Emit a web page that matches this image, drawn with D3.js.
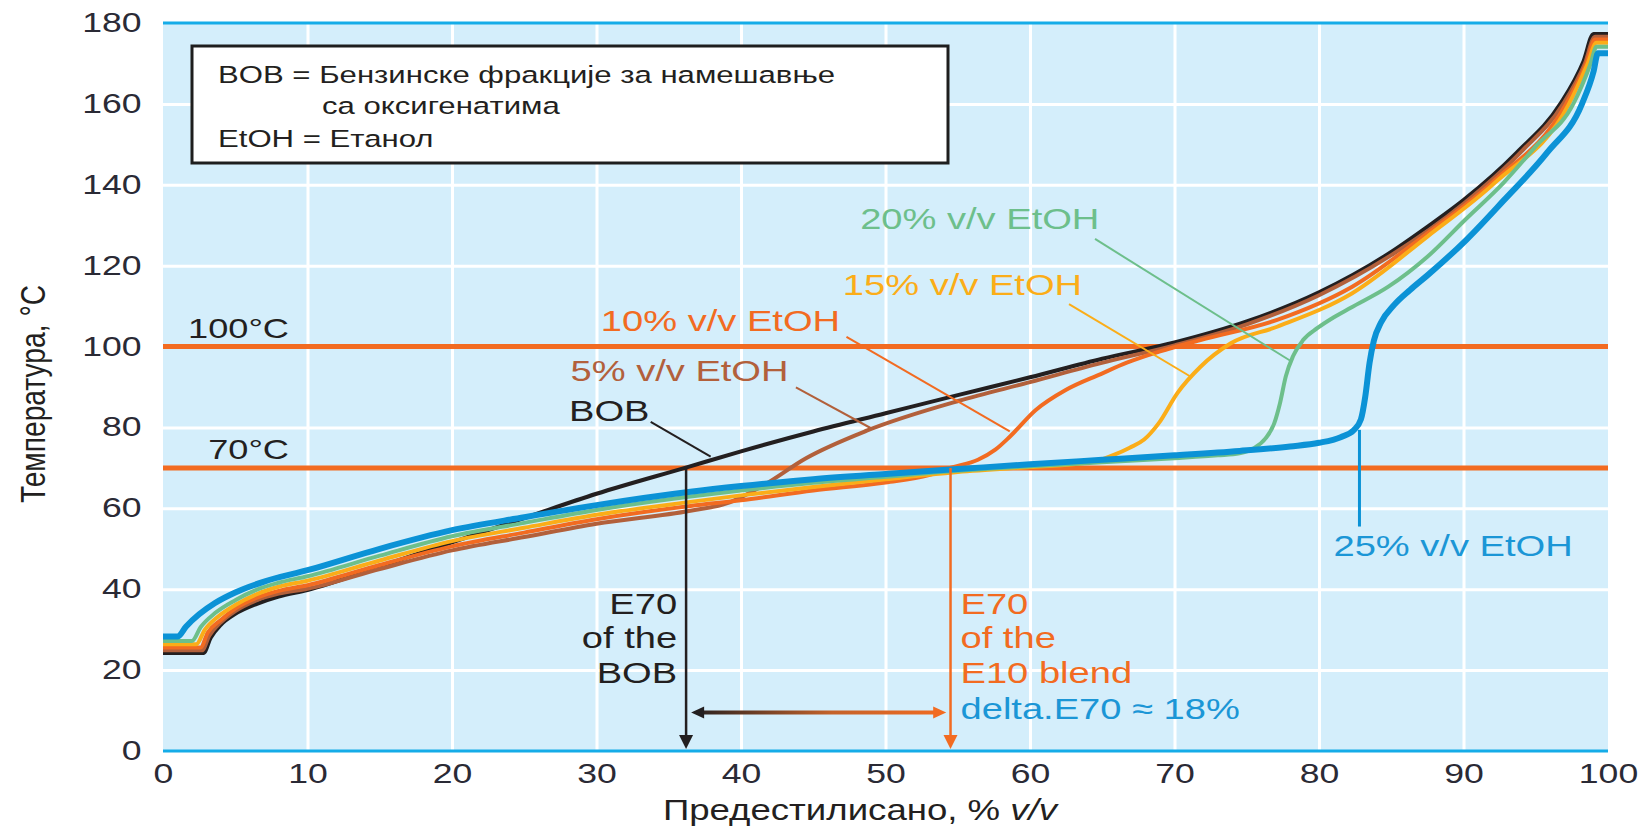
<!DOCTYPE html>
<html>
<head>
<meta charset="utf-8">
<script src="https://cdn.jsdelivr.net/npm/d3@7"></script>
<style>
  body { margin: 0; background: #fff; }
  svg { display: block; font-family: "Liberation Sans", Arial, Helvetica, sans-serif; }
</style>
</head>
<body>
<div id="chart"></div>
<script>
// ---- data ----
var xTicks = [0, 10, 20, 30, 40, 50, 60, 70, 80, 90, 100];
var yTicks = [0, 20, 40, 60, 80, 100, 120, 140, 160, 180];
var refTemps = [70, 100];
var refLabels = ["70°C", "100°C"];

// distillation curves [% evaporated, temperature]
var bobCurve = [[0,24.2],[2.8,24.2],[3.3,28],[4,31.2],[5,33.9],[6.5,36.4],[8,38.2],[10,39.8],[15,45.6],[20,51.6],[25,57.6],[30,63.6],[36.3,70.2],[40,74.1],[45,79],[50,83.5],[55,88],[60,92.4],[65,97],[70,101],[75,106.2],[80,113.4],[85,123.4],[87.5,129.6],[90,136.2],[93.7,148],[96.7,160],[98.3,170.5],[99,177.3],[100,177.3]];
var e5Curve = [[0,24.9],[2.7,24.9],[3.2,28.5],[4,31.8],[5,34.6],[6.5,37.3],[8,38.9],[10,40.1],[15,45],[20,49.6],[25,52.9],[30,56.2],[36.5,59.4],[39,61.2],[41.6,65.8],[44.5,72.4],[48.7,79.2],[55.1,86.6],[60,91.2],[64.9,95.9],[70,100.3],[75,105.5],[80,112.7],[85,122.6],[90,135.3],[94,148.2],[96.9,160],[98.4,170],[99.1,176.6],[100,176.6]];
var e10Curve = [[0,25.6],[2.6,25.6],[3.1,29.3],[4,32.4],[5,35.2],[6.5,37.9],[8,39.6],[10,41],[15,46],[20,50.6],[25,54],[30,57.3],[36.5,60.6],[40,62],[45,64.4],[50,66.4],[53,68.2],[54.6,70.1],[56.4,72],[57.6,74.5],[58.6,77.7],[60.4,84.3],[62.5,89.3],[64.9,93.2],[66.7,96],[69,98.8],[71.8,101.6],[77.1,106.6],[82.3,114.8],[87.5,128],[92,140.6],[97.1,160],[98.5,170],[99.1,175.9],[100,175.9]];
var e15Curve = [[0,26.4],[2.3,26.4],[2.9,30],[3.8,33.2],[5,36.1],[6.5,38.8],[8,40.6],[10,42.1],[15,47.1],[20,51.9],[25,55.2],[30,58.4],[36.5,61.6],[40,63.2],[45,65.3],[50,67.2],[55,69],[60,70.2],[63,70.9],[64.6,71.7],[65.8,73.2],[66.9,75],[67.9,77],[68.9,81],[70.2,88.5],[71.8,95],[73.9,100.8],[77.1,104.9],[82.3,113.2],[87.5,127.2],[92.2,140.6],[97.3,160],[98.6,170],[99.2,175.1],[100,175.1]];
var e20Curve = [[0,27.2],[2,27.2],[2.6,30.6],[3.6,34.1],[5,37.3],[6.5,39.9],[8,41.6],[10,43.2],[15,48.3],[20,53.1],[25,56.4],[30,59.6],[36.5,62.9],[40,64.4],[45,66.3],[50,67.8],[55,69.3],[60,70.4],[65,71.4],[70,72.4],[73,73.1],[74.5,73.6],[75.5,74.9],[76.3,77.3],[76.9,81],[77.3,86],[77.7,92.6],[78.2,97.6],[78.9,101.6],[79.9,104.6],[81,107.2],[82.2,109.6],[84.8,114.8],[87.5,122.2],[90.1,131.3],[92.8,140.6],[95,149.5],[97.6,160],[98.8,170],[99.2,174.1],[100,174.1]];
var e25Curve = [[0,28.3],[1,28.3],[1.6,30.8],[2.5,33.8],[3.6,36.6],[5,39.2],[7,41.9],[10,44.7],[15,50],[20,54.6],[25,57.8],[30,60.8],[36.5,64.1],[40,65.5],[45,67.2],[50,68.5],[55,69.7],[60,70.9],[65,72],[70,73.1],[74.5,74.2],[78,75.3],[80,76.2],[81.5,77.6],[82.4,79.3],[82.9,82],[83.2,87.6],[83.5,96],[83.8,101.5],[84.3,106],[85.2,110.3],[86.3,114],[87.5,117.6],[90.2,126.4],[92.8,136.2],[95.8,148],[98.2,160],[99,168],[99.3,172.5],[100,172.5]];

var curveNames = ["BOB", "5% v/v EtOH", "10% v/v EtOH", "15% v/v EtOH", "20% v/v EtOH", "25% v/v EtOH"];
var curves = [bobCurve, e5Curve, e10Curve, e15Curve, e20Curve, e25Curve];
// label anchor [x, y] (data units), text-anchor, leader start / end
var labelPos = [[28.1, 81.7], [28.2, 91.6], [30.3, 103.9], [63.6, 112.8], [64.8, 129.0], [81.0, 48.2]];
var labelAnchor = ["start", "start", "start", "end", "end", "start"];
var leaderFrom = [[33.75, 81.4], [43.8, 89.9], [47.3, 102.4], [62.7, 110.5], [64.5, 126.6], [82.8, 79.4]];
var leaderTo = [[37.9, 72.8], [49.0, 79.8], [58.6, 79.0], [71.1, 92.6], [78.1, 96.3], [82.8, 55.5]];

var e70Values = [36.2, 54.5];          // E70 of BOB, E70 of E10 blend
var deltaArrow = [36.55, 54.2, 9.5];   // from, to, at temperature
var e70TextBOB = ["E70", "of the", "BOB"];
var e70TextE10 = ["E70", "of the", "E10 blend"];
var deltaText = "delta.E70 ≈ 18%";
var legendLines = ["BOB = Бензинске фракције за намешавње", "са оксигенатима", "EtOH = Етанол"];

// ---- styles ----
var colors = ["#231f20", "#b2603b", "#f26b21", "#fbad18", "#6dbf8b", "#0b92d6"];
var textColors = ["#231f20", "#b2603b", "#f26b21", "#fbad18", "#6dbf8b", "#1b96d6"];
var widths = [4, 4, 4, 4, 4, 6];
var SX = 1.27;   // the picture is stretched sideways

var W = 1642, H = 829;
var margin = {top: 23, right: 34, bottom: 78, left: 163};
var width = W - margin.left - margin.right;
var height = H - margin.top - margin.bottom;

var svg = d3.select("#chart").append("svg").attr("width", W).attr("height", H);
var defs = svg.append("defs");
var g = svg.append("g").attr("transform", "translate(" + margin.left + "," + margin.top + ")");

var x = d3.scaleLinear().domain([0, 100]).range([0, width]);
var y = d3.scaleLinear().domain([0, 180]).range([height, 0]);

var stretched = function(sel, px, py, str, anchor, size, color){
  return sel.append("text")
    .attr("transform", "translate(" + px + "," + py + ") scale(" + SX + ",1)")
    .attr("text-anchor", anchor)
    .style("font-size", size + "px")
    .attr("fill", color)
    .text(str);
};

// plot background
g.append("rect").attr("width", width).attr("height", height).attr("fill", "#d4eefb");

// grid
var gx = g.append("g").call(d3.axisBottom(x).tickValues(xTicks.slice(1, -1)).tickSize(height).tickFormat(""));
var gy = g.append("g").call(d3.axisLeft(y).tickValues(yTicks.slice(1, -1)).tickSize(-width).tickFormat(""));
[gx, gy].forEach(function(a){
  a.select(".domain").remove();
  a.selectAll("line").attr("stroke", "#fff").attr("stroke-width", 3);
});

// top / bottom frame
g.append("line").attr("x1", 0).attr("x2", width).attr("y1", 0).attr("y2", 0)
  .attr("stroke", "#15ace8").attr("stroke-width", 3);
g.append("line").attr("x1", 0).attr("x2", width).attr("y1", height).attr("y2", height)
  .attr("stroke", "#15ace8").attr("stroke-width", 3);

// axes labels
var xa = g.append("g").attr("transform", "translate(0," + height + ")")
  .call(d3.axisBottom(x).tickValues(xTicks).tickSize(0));
xa.select(".domain").remove();
xa.selectAll("text").attr("y", 32).attr("dy", 0)
  .attr("transform", "scale(" + SX + ",1)")
  .style("font-size", "28px").attr("fill", "#2a2a35");

var ya = g.append("g").call(d3.axisLeft(y).tickValues(yTicks).tickSize(0));
ya.select(".domain").remove();
ya.selectAll("text").attr("x", -21.5 / SX).attr("dy", 0).attr("y", 8.5)
  .attr("transform", "scale(" + SX + ",1)")
  .style("font-size", "28px").attr("fill", "#2a2a35");

// reference temperature lines
refTemps.forEach(function(t, i){
  g.append("line").attr("x1", 0).attr("x2", width).attr("y1", y(t)).attr("y2", y(t))
    .attr("stroke", "#f26b21").attr("stroke-width", 5);
  stretched(g, 126, y(t) - 9, refLabels[i], "end", 28.5, "#231f20");
});

// legend box
var lg = g.append("g");
lg.append("rect").attr("x", 29).attr("y", 23).attr("width", 756).attr("height", 117)
  .attr("fill", "#fff").attr("stroke", "#1e1e1e").attr("stroke-width", 3);
stretched(lg, 55, 60, legendLines[0], "start", 24.5, "#231f20");
stretched(lg, 159, 91, legendLines[1], "start", 24.5, "#231f20");
stretched(lg, 55, 124, legendLines[2], "start", 24.5, "#231f20");

// curves
var line = d3.line().x(function(d){ return x(d[0]); }).y(function(d){ return y(d[1]); })
  .curve(d3.curveMonotoneX);
curves.forEach(function(c, i){
  g.append("path").datum(c).attr("d", line)
    .attr("fill", "none").attr("stroke", colors[i]).attr("stroke-width", widths[i])
    .attr("stroke-linejoin", "round");
});

// curve labels and leaders
curveNames.forEach(function(n, i){
  g.append("line")
    .attr("x1", x(leaderFrom[i][0])).attr("y1", y(leaderFrom[i][1]))
    .attr("x2", x(leaderTo[i][0])).attr("y2", y(leaderTo[i][1]))
    .attr("stroke", colors[i]).attr("stroke-width", i == 5 ? 3 : 2);
  stretched(g, x(labelPos[i][0]), y(labelPos[i][1]), n, labelAnchor[i], 30, textColors[i]);
});

// E70 arrows
var e70Colors = ["#231f20", "#f26b21"];
e70Values.forEach(function(v, i){
  var px = x(v);
  g.append("line").attr("x1", px).attr("x2", px).attr("y1", y(70)).attr("y2", height - 12)
    .attr("stroke", e70Colors[i]).attr("stroke-width", 2.5);
  g.append("path")
    .attr("d", "M" + (px - 7) + "," + (height - 16) + "L" + px + "," + (height - 2) + "L" + (px + 7) + "," + (height - 16) + "Z")
    .attr("fill", e70Colors[i]);
});
e70TextBOB.forEach(function(t, i){
  stretched(g, x(e70Values[0]) - 9, y(33.9 - i * 8.5), t, "end", 30, "#231f20");
});
e70TextE10.forEach(function(t, i){
  stretched(g, x(e70Values[1]) + 10, y(33.9 - i * 8.5), t, "start", 30, "#f26b21");
});
stretched(g, x(e70Values[1]) + 10, y(7.8), deltaText, "start", 30, "#1b96d6");

// delta arrow with black -> orange gradient
var grad = defs.append("linearGradient").attr("id", "deltaGrad")
  .attr("gradientUnits", "userSpaceOnUse")
  .attr("x1", x(deltaArrow[0])).attr("x2", x(deltaArrow[1])).attr("y1", 0).attr("y2", 0);
grad.append("stop").attr("offset", "0%").attr("stop-color", "#231f20");
grad.append("stop").attr("offset", "55%").attr("stop-color", "#c4622a");
grad.append("stop").attr("offset", "100%").attr("stop-color", "#f26b21");
var ax1 = x(deltaArrow[0]), ax2 = x(deltaArrow[1]), ay = y(deltaArrow[2]);
g.append("line").attr("x1", ax1 + 8).attr("x2", ax2 - 8).attr("y1", ay).attr("y2", ay)
  .attr("stroke", "url(#deltaGrad)").attr("stroke-width", 4);
g.append("path").attr("d", "M" + ax1 + "," + ay + "L" + (ax1 + 13) + "," + (ay - 6) + "L" + (ax1 + 13) + "," + (ay + 6) + "Z")
  .attr("fill", "#231f20");
g.append("path").attr("d", "M" + ax2 + "," + ay + "L" + (ax2 - 13) + "," + (ay - 6) + "L" + (ax2 - 13) + "," + (ay + 6) + "Z")
  .attr("fill", "#f26b21");

// axis titles
var xt = svg.append("text")
  .attr("transform", "translate(" + (margin.left + 697) + ",820) scale(1.22,1)")
  .attr("text-anchor", "middle").style("font-size", "30px").attr("fill", "#231f20");
xt.append("tspan").text("Предестилисано, % ");
xt.append("tspan").style("font-style", "italic").text("v/v");

svg.append("text")
  .attr("transform", "translate(45,394) rotate(-90) scale(1,1.27)")
  .attr("text-anchor", "middle")
  .attr("textLength", 218).attr("lengthAdjust", "spacingAndGlyphs")
  .style("font-size", "28px").attr("fill", "#231f20")
  .text("Температура, °C");
</script>
</body>
</html>
